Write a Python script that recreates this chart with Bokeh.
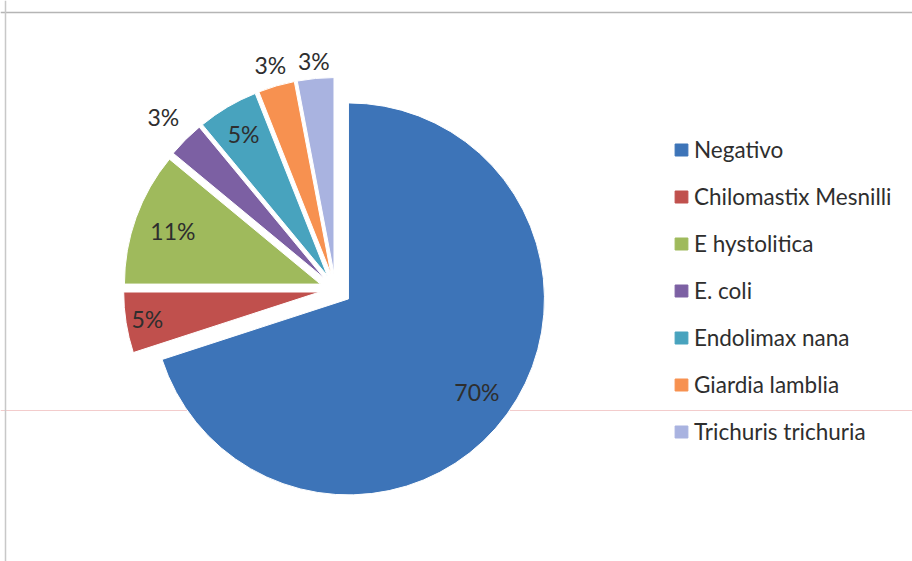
import numpy as np
from bokeh.plotting import figure
from bokeh.models import Range1d, Span, Legend, LegendItem, ColumnDataSource
from bokeh.core.properties import value
from bokeh.embed import file_html
from bokeh.resources import INLINE

# ---- data ----
categories = ["Negativo", "Chilomastix Mesnilli", "E hystolitica", "E. coli",
              "Endolimax nana", "Giardia lamblia", "Trichuris trichuria"]
values = [70, 5, 11, 3, 5, 3, 3]
pct_labels = ["70%", "5%", "11%", "3%", "5%", "3%", "3%"]

# ---- style / layout ----
colors = ["#3d74b8", "#c0504d", "#9fba5c", "#7c60a3", "#48a3be", "#f79150", "#a9b3e0"]
label_factor = [0.81, 0.89, 0.80, 1.16, 0.84, 1.11, 1.09]   # label distance / radius
W, H = 912, 561
cx, cy = 335, 272       # pie center (frame pixels, y up)
R = 196                 # radius
EXPL = 16               # explosion offset

FONT = "Lato"

p = figure(width=W, height=H, output_backend="svg", toolbar_location=None,
           x_range=Range1d(0, W), y_range=Range1d(0, H), min_border=0)
p.axis.visible = False
p.grid.visible = False
p.outline_line_color = None
p.background_fill_color = "white"
p.border_fill_color = "white"

# scan artefact line and chart border
p.add_layout(Span(location=151, dimension="width", line_color="#f3cccc",
                  line_width=1, level="underlay"))
p.add_layout(Span(location=549, dimension="width", line_color="#b5b5b5", line_width=1.5))
p.add_layout(Span(location=5, dimension="height", line_color="#c8c8c8", line_width=1.5))

vals = np.array(values, dtype=float)
frac = vals / vals.sum()
cum = np.concatenate([[0], np.cumsum(frac)])
# clockwise from 12 o'clock
start = np.pi / 2 - 2 * np.pi * cum[:-1]
end = np.pi / 2 - 2 * np.pi * cum[1:]
mid = (start + end) / 2
xs = cx + EXPL * np.cos(mid)
ys = cy + EXPL * np.sin(mid)
lx = xs + np.array(label_factor) * R * np.cos(mid)
ly = ys + np.array(label_factor) * R * np.sin(mid)

src = ColumnDataSource(dict(x=xs, y=ys, s=end, e=start, c=colors,
                            lx=lx, ly=ly, t=pct_labels))
p.wedge(x="x", y="y", radius=R, start_angle="s", end_angle="e",
        direction="anticlock", fill_color="c", line_color="white", line_width=1,
        source=src)
p.text(x="lx", y="ly", text="t", source=src, text_align="center",
       text_baseline="middle", text_font=value(FONT), text_font_size="23px",
       text_color="#2e2e2e")

# legend with square swatches (dummy renderers, nothing drawn in the plot)
items = []
for name, col in zip(categories, colors):
    r = p.quad(left=[np.nan], right=[np.nan], top=[np.nan], bottom=[np.nan],
               fill_color=col, line_color=col)
    items.append(LegendItem(label=name, renderers=[r]))
legend = Legend(items=items, location=(673, 116), orientation="vertical",
                border_line_color=None, background_fill_alpha=0,
                label_text_font=FONT, label_text_font_size="22.5px",
                label_text_color="#2e2e2e", glyph_width=16, glyph_height=15,
                label_standoff=5, spacing=20, padding=0, margin=0)
p.add_layout(legend)

open("out.html", "w").write(file_html(p, INLINE))
